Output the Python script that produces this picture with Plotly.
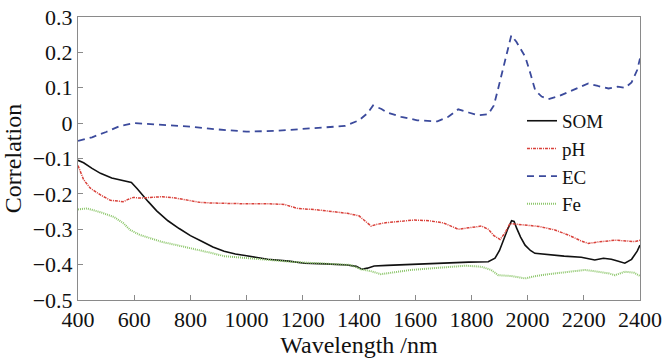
import plotly.graph_objects as go

# Wavelength grids and correlation values
som_x = [400, 420, 450, 480, 520, 560, 590, 610, 630, 650, 680, 720, 760, 800, 840, 880, 920,
         960, 1000, 1075, 1150, 1206, 1280, 1358, 1390, 1410, 1430, 1454, 1500, 1585, 1650,
         1718, 1790, 1860, 1884, 1900, 1914, 1930, 1943, 1952, 1961, 1975, 1991, 2010, 2026,
         2050, 2074, 2130, 2191, 2239, 2270, 2298, 2320, 2346, 2370, 2390, 2400]
som_y = [-0.105, -0.112, -0.128, -0.142, -0.155, -0.163, -0.168, -0.185, -0.205, -0.222,
         -0.248, -0.276, -0.298, -0.318, -0.334, -0.350, -0.362, -0.370, -0.375, -0.385,
         -0.390, -0.396, -0.398, -0.401, -0.405, -0.413, -0.410, -0.404, -0.402, -0.399,
         -0.397, -0.394, -0.393, -0.392, -0.382, -0.360, -0.330, -0.298, -0.276, -0.278,
         -0.297, -0.322, -0.345, -0.360, -0.368, -0.370, -0.373, -0.376, -0.379, -0.387,
         -0.382, -0.385, -0.390, -0.396, -0.385, -0.362, -0.345]

ph_x = [400, 420, 444, 480, 515, 545, 561, 580, 597, 620, 657, 700, 740, 790, 835, 880, 920,
        1000, 1080, 1134, 1160, 1181, 1250, 1300, 1358, 1400, 1425, 1443, 1460, 1490, 1540,
        1597, 1650, 1700, 1718, 1753, 1790, 1836, 1860, 1880, 1902, 1920, 1937, 1960, 1991,
        2040, 2097, 2150, 2190, 2216, 2250, 2280, 2311, 2350, 2380, 2400]
ph_y = [-0.120, -0.160, -0.184, -0.203, -0.218, -0.222, -0.222, -0.215, -0.210, -0.212,
        -0.210, -0.208, -0.211, -0.217, -0.224, -0.226, -0.227, -0.228, -0.228, -0.230,
        -0.236, -0.241, -0.245, -0.250, -0.255, -0.262, -0.280, -0.291, -0.287, -0.282,
        -0.278, -0.274, -0.276, -0.282, -0.288, -0.300, -0.296, -0.291, -0.300, -0.318,
        -0.329, -0.310, -0.284, -0.286, -0.288, -0.292, -0.302, -0.318, -0.333, -0.340,
        -0.336, -0.333, -0.331, -0.333, -0.335, -0.331]

ec_x = [400, 450, 500, 550, 600, 650, 700, 800, 900, 1000, 1100, 1200, 1300, 1350, 1400,
        1430, 1450, 1480, 1500, 1550, 1607, 1679, 1718, 1753, 1790, 1824, 1860, 1880, 1896,
        1915, 1942, 1960, 1992, 2010, 2027, 2050, 2074, 2110, 2145, 2180, 2216, 2250, 2288,
        2320, 2347, 2370, 2390, 2400]
ec_y = [-0.050, -0.040, -0.025, -0.008, 0.000, -0.002, -0.005, -0.010, -0.018, -0.024,
        -0.022, -0.016, -0.010, -0.008, 0.008, 0.028, 0.050, 0.040, 0.030, 0.018, 0.008,
        0.005, 0.018, 0.039, 0.030, 0.022, 0.025, 0.050, 0.100, 0.165, 0.248, 0.230, 0.187,
        0.140, 0.093, 0.075, 0.068, 0.076, 0.088, 0.100, 0.112, 0.105, 0.098, 0.103, 0.100,
        0.115, 0.150, 0.183]

fe_x = [400, 432, 480, 527, 560, 586, 620, 657, 700, 752, 800, 835, 880, 920, 1000, 1080,
        1158, 1250, 1320, 1371, 1407, 1440, 1478, 1530, 1585, 1650, 1718, 1780, 1836, 1870,
        1896, 1940, 1991, 2030, 2074, 2140, 2204, 2250, 2290, 2311, 2346, 2380, 2400]
fe_y = [-0.244, -0.241, -0.252, -0.265, -0.282, -0.302, -0.316, -0.326, -0.336, -0.345,
        -0.353, -0.359, -0.368, -0.376, -0.382, -0.388, -0.392, -0.396, -0.399, -0.401,
        -0.413, -0.418, -0.427, -0.421, -0.415, -0.411, -0.406, -0.403, -0.406, -0.415,
        -0.430, -0.432, -0.439, -0.432, -0.427, -0.421, -0.415, -0.420, -0.425, -0.430,
        -0.420, -0.423, -0.432]

x_ticks = [400, 600, 800, 1000, 1200, 1400, 1600, 1800, 2000, 2200, 2400]
y_ticks = [0.3, 0.2, 0.1, 0, -0.1, -0.2, -0.3, -0.4, -0.5]
y_tick_text = ["0.3", "0.2", "0.1", "0", "\u22120.1", "\u22120.2", "\u22120.3", "\u22120.4", "\u22120.5"]

FONT = "Liberation Serif, Times New Roman, serif"
INK = "#111111"

fig = go.Figure()
fig.add_trace(go.Scatter(x=som_x, y=som_y, mode="lines", name="SOM",
                         line=dict(color="#111111", width=1.6)))
fig.add_trace(go.Scatter(x=ph_x, y=ph_y, mode="lines", name="pH",
                         line=dict(color="#d9413a", width=1.5, dash="3px,1px,1px,1px")))
fig.add_trace(go.Scatter(x=ec_x, y=ec_y, mode="lines", name="EC",
                         line=dict(color="#3b4a9c", width=1.8, dash="7px,5px")))
fig.add_trace(go.Scatter(x=fe_x, y=fe_y, mode="lines", name="Fe",
                         line=dict(color="#8cc66a", width=2, dash="1px,1px")))

axis_common = dict(showline=True, linecolor="#8a8a8a", linewidth=1, mirror=True,
                   ticks="inside", ticklen=5, tickcolor="#8a8a8a", showgrid=False,
                   zeroline=False, automargin=False, ticklabeloverflow="allow",
                   tickfont=dict(family=FONT, size=22, color=INK))

fig.update_xaxes(range=[400, 2400], tickvals=x_ticks,
                 title=dict(text="Wavelength /nm", font=dict(family=FONT, size=24, color=INK),
                            standoff=0),
                 **axis_common)
fig.update_yaxes(range=[-0.5, 0.3], tickvals=y_ticks, ticktext=y_tick_text,
                 title=dict(text="Correlation", font=dict(family=FONT, size=24, color=INK)),
                 **axis_common)

fig.update_layout(
    width=672, height=359,
    margin=dict(l=78, r=32, t=17, b=59),
    paper_bgcolor="white", plot_bgcolor="white",
    showlegend=True,
    legend=dict(x=0.79, y=0.70, xanchor="left", yanchor="top",
                bgcolor="rgba(0,0,0,0)", borderwidth=0,
                font=dict(family=FONT, size=19, color=INK),
                tracegroupgap=0, itemwidth=30),
)

# Remove the browser's default body margin so the figure sits at the page origin.
fig.write_html("out.html", config={"displayModeBar": False},
               post_script="document.body.style.margin='0px';")
